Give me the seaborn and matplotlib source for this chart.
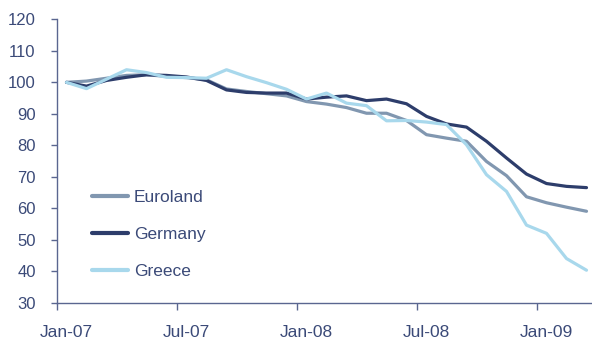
import matplotlib
matplotlib.use("Agg")
import matplotlib.pyplot as plt
import seaborn as sns
import pandas as pd
import numpy as np

months = ["Jan-07","Feb-07","Mar-07","Apr-07","May-07","Jun-07","Jul-07","Aug-07","Sep-07","Oct-07",
          "Nov-07","Dec-07","Jan-08","Feb-08","Mar-08","Apr-08","May-08","Jun-08","Jul-08","Aug-08",
          "Sep-08","Oct-08","Nov-08","Dec-08","Jan-09","Feb-09","Mar-09"]
euroland = [100, 100.4, 101.3, 102.2, 102.4, 101.9, 101.5, 100.8, 97.9, 97.1, 96.4, 95.7, 93.9, 93.1,
            92.0, 90.2, 90.2, 87.9, 83.4, 82.3, 81.3, 74.9, 70.4, 63.7, 61.8, 60.4, 59.1]
germany = [100, 98.8, 100.6, 101.6, 102.4, 102.2, 101.7, 100.6, 97.6, 96.8, 96.6, 96.6, 94.7, 95.3,
           95.7, 94.2, 94.7, 93.2, 89.2, 86.8, 85.8, 81.3, 76.0, 70.9, 67.9, 67.0, 66.6]
greece = [100, 98.0, 101.0, 104.0, 103.1, 101.6, 101.5, 101.3, 104.0, 101.8, 99.9, 97.8, 94.7, 96.6,
          93.4, 92.6, 87.8, 87.9, 87.4, 86.6, 80.2, 70.7, 65.4, 54.7, 52.1, 44.1, 40.4]
series_names = ["Euroland", "Germany", "Greece"]
colors = ["#8197b0", "#2d3d6b", "#a8d8ec"]
ytick_vals = [30, 40, 50, 60, 70, 80, 90, 100, 110, 120]
xtick_labels = ["Jan-07", "Jul-07", "Jan-08", "Jul-08", "Jan-09"]

idx = np.arange(len(months))
df = pd.concat([
    pd.DataFrame({"idx": idx, "value": vals, "series": name})
    for name, vals in zip(series_names, [euroland, germany, greece])
])

sns.set_theme(style="white")
plt.rcParams['font.family'] = ['Liberation Sans', 'DejaVu Sans']
text_color = "#3b4a78"
axis_color = "#5a6690"

W, H = 592, 341
ax_left, ax_bottom, ax_top = 56.5, 303, 19.3
fig = plt.figure(figsize=(W/100, H/100), dpi=100)
ax = fig.add_axes([ax_left/W, (H-ax_bottom)/H, (W-ax_left)/W, (ax_bottom-ax_top)/H])

sns.lineplot(data=df, x="idx", y="value", hue="series", hue_order=series_names,
             palette=colors, linewidth=2.3, ax=ax, legend=True)

ax.set_xlim(-0.5, -0.5 + (W-ax_left)/20)
ax.set_ylim(30, 120)
ax.set_yticks(ytick_vals)
ax.set_yticklabels([str(v) for v in ytick_vals])
major_pos = [months.index(m) for m in xtick_labels]
ax.set_xticks(major_pos)
ax.set_xticklabels(xtick_labels)
ax.set_xticks([p - 0.5 for p in major_pos], minor=True)
ax.tick_params(axis='x', which='major', length=0, pad=15.5, labelsize=12.5, labelcolor=text_color)
ax.tick_params(axis='x', which='minor', length=5, width=1, color=axis_color, direction='out', bottom=True)
ax.tick_params(axis='y', which='major', length=4.5, width=1, color=axis_color, direction='out', left=True,
               labelsize=12, labelcolor=text_color, pad=10.5)
ax.set_xlabel("")
ax.set_ylabel("")
for s in ["top", "right"]:
    ax.spines[s].set_visible(False)
for s in ["left", "bottom"]:
    ax.spines[s].set_color(axis_color)
    ax.spines[s].set_linewidth(1)

leg = ax.legend(loc="center left", bbox_to_anchor=(0.0663, 0.2414), frameon=False, fontsize=12.5,
                handlelength=2.07, labelspacing=1.27, handletextpad=0.35, borderpad=0, borderaxespad=0)
for t in leg.get_texts():
    t.set_color(text_color)
for h in leg.get_lines():
    h.set_linewidth(3)

fig.savefig("out.png", dpi=100)
